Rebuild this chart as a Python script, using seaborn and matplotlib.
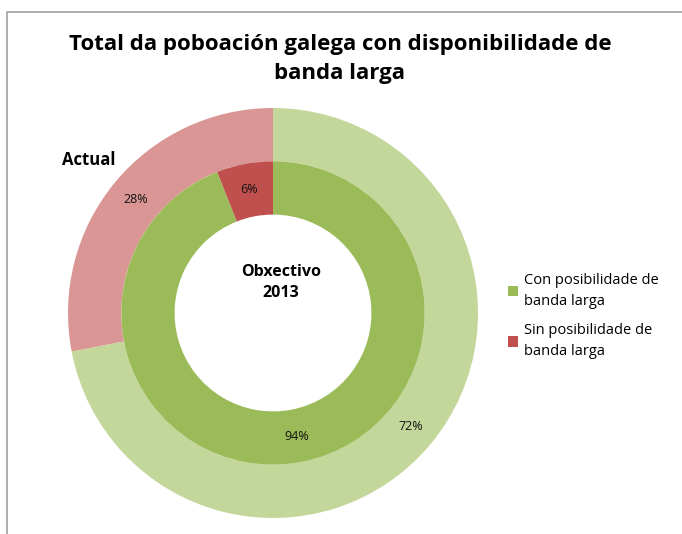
import matplotlib
matplotlib.use("Agg")
import matplotlib.pyplot as plt
import seaborn as sns
from matplotlib.patches import Rectangle

sns.set_theme(style="white")
plt.rcParams['font.family'] = ['Open Sans', 'DejaVu Sans']
plt.rcParams['text.color'] = 'black'

# data
categories = ['Con posibilidade de\nbanda larga', 'Sin posibilidade de\nbanda larga']
actual = [72, 28]       # outer ring
obxectivo = [94, 6]     # inner ring
outer_colors = ['#C4D79B', '#DA9694']
inner_colors = ['#9BBB59', '#C0504D']

fig = plt.figure(figsize=(6.82, 5.34), dpi=100)
W, H = 682, 534

# frame lines (left and top visible)
fig.add_artist(Rectangle((7 / W, -0.1), 1.2, (534 - 12) / H + 0.1, transform=fig.transFigure,
                         fill=False, edgecolor='#A0A0A0', linewidth=1.2))

cx, cy, r = 273, 534 - 313, 205
ax = fig.add_axes([(cx - r) / W, (cy - r) / H, 2 * r / W, 2 * r / H])

fmt = lambda p: f'{p:.0f}%'
ax.pie(actual, radius=1.0, colors=outer_colors, startangle=90, counterclock=False,
       autopct=fmt, pctdistance=0.87,
       wedgeprops=dict(width=1.0 - 0.74, edgecolor='none'),
       textprops=dict(fontsize=9, color='#111111'))
wedges, _, _ = ax.pie(obxectivo, radius=0.74, colors=inner_colors, startangle=90, counterclock=False,
                      autopct=fmt, pctdistance=0.615 / 0.74,
                      wedgeprops=dict(width=0.74 - 0.48, edgecolor='none'),
                      textprops=dict(fontsize=9, color='#111111'))
ax.set_xlim(-1, 1)
ax.set_ylim(-1, 1)
ax.set_aspect('equal')
ax.axis('off')

ax.text(0.04, 0.15, 'Obxectivo\n2013', ha='center', va='center', fontsize=11.5,
        fontweight='bold', linespacing=1.45)
fig.text(89 / W, 1 - 160 / H, 'Actual', ha='center', va='center', fontsize=12, fontweight='bold')

fig.text(340 / W, 1 - 59 / H, 'Total da poboación galega con disponibilidade de\nbanda larga',
         ha='center', va='center', fontsize=16, fontweight='bold', linespacing=1.55)

leg = fig.legend(wedges, categories, loc='center left', bbox_to_anchor=(495 / W, 1 - 316 / H),
                 frameon=False, fontsize=10.5, handlelength=0.7, handleheight=0.7,
                 handletextpad=0.4, labelspacing=1.0)
for t in leg.get_texts():
    t.set_linespacing(1.5)

fig.savefig('out.png', dpi=100)
